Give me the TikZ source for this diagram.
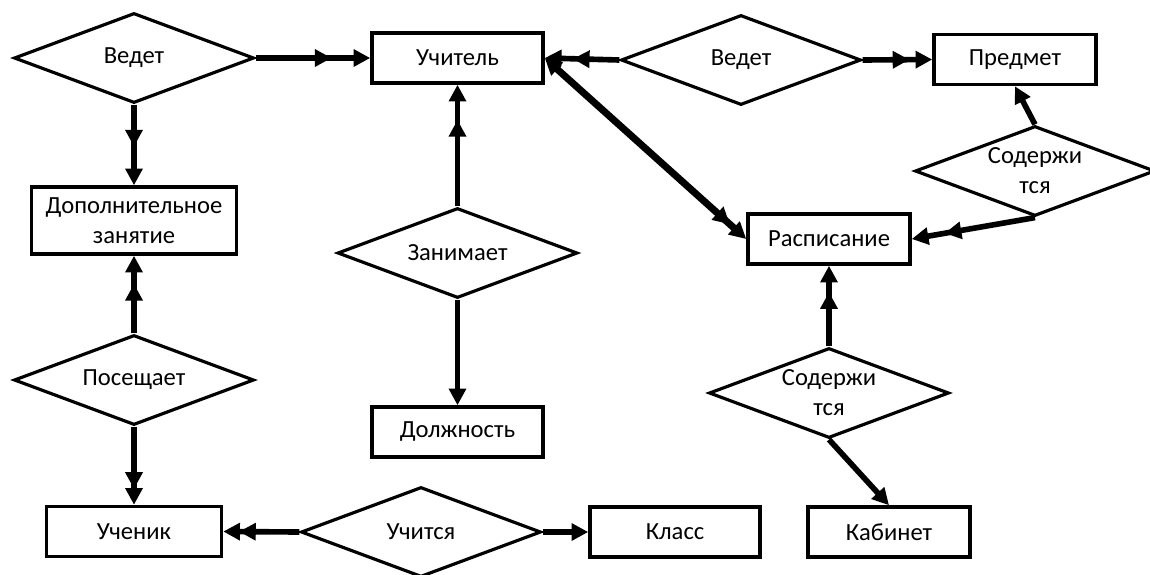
\documentclass[tikz,border=0pt]{standalone}
\usepackage{fontspec}
\setmainfont{Carlito}
\usetikzlibrary{arrows.meta,positioning,calc,shapes.geometric,decorations.markings}

\begin{document}
\begin{tikzpicture}[
    font=\fontsize{14}{17}\selectfont,
    >={Triangle[length=9.5pt,width=9.5pt]},
    ent/.style={
        draw=black, line width=2pt, align=center, inner sep=2pt,
        minimum width=#1, minimum height=1cm},
    ent/.default=3.4cm,
    rel/.style={
        diamond, aspect=2.7, draw=black, line width=1.8pt, align=center,
        inner sep=0pt, minimum width=4.8cm, minimum height=1.8cm},
    arr/.style={->, line width=3.2pt},
    darr/.style={arr, postaction={decorate, decoration={markings,
        mark=at position -#1 with {\arrow{>}}}}}
]
\useasboundingbox (0,0) rectangle (23,-11.48);

%% ══════════════════════════════ ENTITIES ══════════════════════════════
\node[ent=3.42cm] (uch)   at (9.15,-1.16)  {Учитель};
\node[ent=3.24cm] (pred)  at (20.30,-1.19) {Предмет};
\node[ent=4.10cm, minimum height=1.34cm] (dop) at (2.68,-4.41)
    {Дополнительное\\занятие};
\node[ent=3.24cm] (rasp)  at (16.58,-4.78) {Расписание};
\node[ent=3.42cm] (dolzh) at (9.15,-8.64)  {Должность};
\node[ent=3.50cm] (uchen) at (2.68,-10.63) {Ученик};
\node[ent=3.40cm] (klass) at (13.50,-10.64) {Класс};
\node[ent=3.24cm] (kab)   at (17.78,-10.64) {Кабинет};

%% ══════════════════════════════ RELATIONS ══════════════════════════════
\node[rel] (vedL)  at (2.68,-1.16)  {Ведет};
\node[rel] (vedR)  at (14.82,-1.20) {Ведет};
\node[rel] (sod1)  at (20.70,-3.42) {Содержи\\тся};
\node[rel] (zan)   at (9.15,-5.06)  {Занимает};
\node[rel] (sod2)  at (16.58,-7.86) {Содержи\\тся};
\node[rel] (pos)   at (2.68,-7.60)  {Посещает};
\node[rel] (uchit) at (8.42,-10.64) {Учится};

%% ══════════════════════════════ LINKS ══════════════════════════════
\draw[darr=22pt] (vedL.east)  -- (uch.west);
\draw[darr=22pt] (vedL.south) -- (dop.north);
\draw[darr=16pt] (vedR.west)  -- (uch.east);
\draw[darr=13pt] (vedR.east)  -- (pred.west);
\draw[arr]       (sod1.north) -- (pred.south);
\draw[darr=19pt] (sod1.south) -- (rasp.east);
\draw[darr=20pt] (zan.north)  -- (uch.south);
\draw[arr]       (zan.south)  -- (dolzh.north);
\draw[darr=12.5pt, <->, line width=4pt] (uch.east) -- (rasp.west);
\draw[darr=16pt] (pos.north)  -- (dop.south);
\draw[darr=9pt]  (pos.south)  -- (uchen.north);
\draw[darr=9pt]  (uchit.west) -- (uchen.east);
\draw[arr]       (uchit.east) -- (klass.west);
\draw[darr=15pt] (sod2.north) -- (rasp.south);
\draw[arr]       (sod2.south) -- (kab.north);

\end{tikzpicture}
\end{document}
